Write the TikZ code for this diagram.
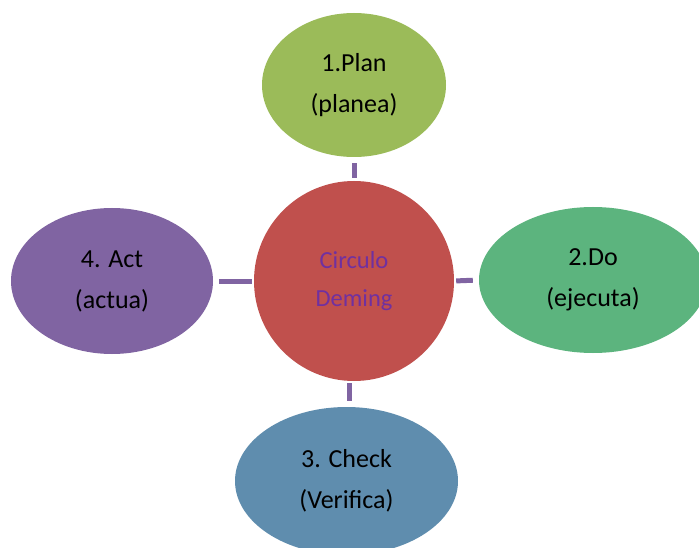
\documentclass[tikz,border=0pt]{standalone}
\usepackage{fontspec}
\setmainfont{Carlito}
\usetikzlibrary{shapes.geometric}
\definecolor{cPlan}{HTML}{9BBB59}
\definecolor{cDo}{HTML}{5CB47E}
\definecolor{cCheck}{HTML}{5F8DAE}
\definecolor{cAct}{HTML}{8064A2}
\definecolor{cCirc}{HTML}{C0504D}
\definecolor{cLine}{HTML}{8064A2}
\definecolor{cTxt}{HTML}{7030A0}
\tikzset{
  blob/.style={ellipse, inner sep=0pt, align=center, text=black,
    font=\fontsize{26}{41}\selectfont},
  link/.style={draw=cLine, line width=5pt}
}
\begin{document}
\begin{tikzpicture}[x=1pt,y=-1pt]
\useasboundingbox (0,0) rectangle (699,548);
\clip (0,0) rectangle (699,548);
\fill[white] (0,0) rectangle (699,548);
\node[blob, fill=cCirc, circle, minimum size=200pt, text=cTxt, font=\fontsize{24.5}{38}\selectfont] (circ) at (354,281) {Circulo\\Deming};
\node[blob, fill=cPlan, minimum width=184pt, minimum height=144pt] (plan) at (354,85) {1.Plan\\(planea)};
\node[blob, fill=cDo, minimum width=228pt, minimum height=146pt] (do) at (593,280) {2.Do\\(ejecuta)};
\node[blob, fill=cCheck, minimum width=223pt, minimum height=148pt] (check) at (346.5,481) {3. Check\\(Verifica)};
\node[blob, fill=cAct, minimum width=202pt, minimum height=146pt] (act) at (112,281) {4. Act\\(actua)};
\coordinate (bx) at (349,0);
\draw[link, shorten <=6pt, shorten >=3pt] (plan.south) -- (circ.north);
\draw[link, shorten <=6pt, shorten >=2pt] (act.east) -- (circ.west);
\draw[link, shorten <=2pt, shorten >=6pt] (circ.east) -- (do.west);
\draw[link, shorten <=2pt, shorten >=6pt] (circ.south -| bx) -- (check.north -| bx);
\end{tikzpicture}
\end{document}
